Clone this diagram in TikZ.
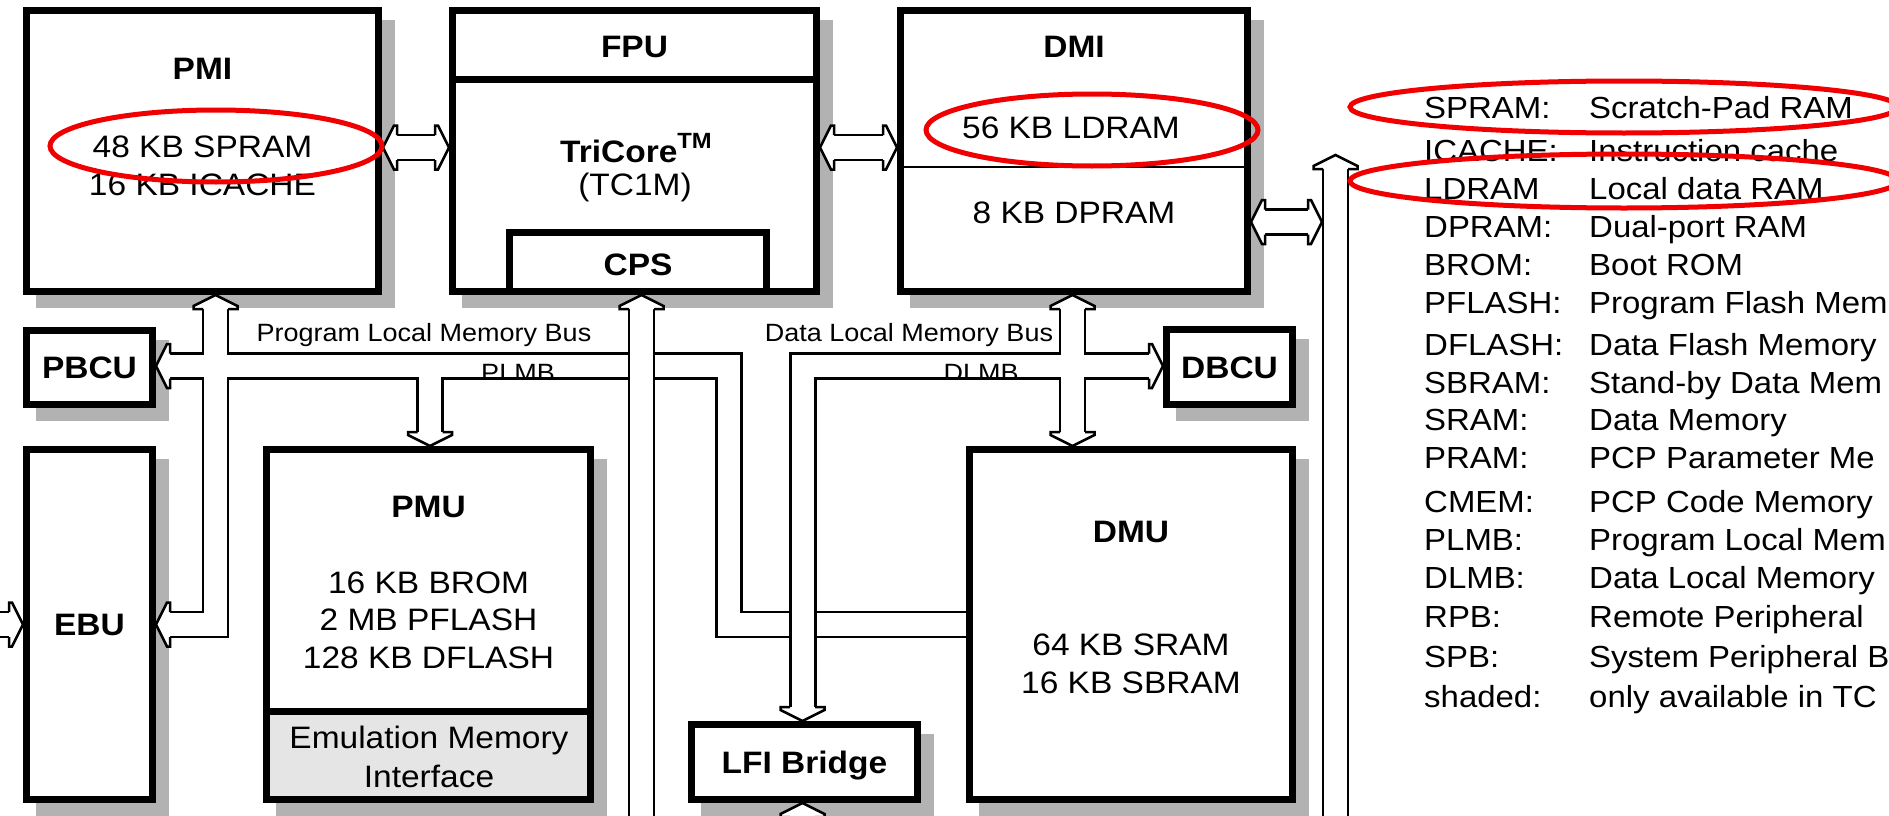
\documentclass[tikz,border=0pt]{standalone}
\usepackage{fontspec}
\setmainfont{Liberation Sans}[FakeStretch=1.08]
\definecolor{shadowgray}{gray}{0.7}
\definecolor{emugray}{gray}{0.9}
\definecolor{markred}{RGB}{240,0,0}
\begin{document}
\begin{tikzpicture}[x=1pt,y=-1pt,
  box/.style={draw=black, line width=7pt, fill=white, rectangle, inner sep=0pt},
  txt/.style={font=\fontsize{31}{37}\selectfont, anchor=base, inner sep=0pt},
  btxt/.style={font=\fontsize{31}{37}\selectfont\bfseries, anchor=base, inner sep=0pt},
  bustxt/.style={font=\fontsize{25}{30}\selectfont, anchor=base, inner sep=0pt},
  legtxt/.style={font=\fontsize{30.5}{36}\selectfont, anchor=base west, inner sep=0pt},
  railblack/.style={line width=27.5pt, draw=black, line join=miter},
  railwhite/.style={line width=22.5pt, draw=white, line join=miter},
  headst/.style={draw=black, fill=white, line width=2.5pt, line join=miter},
  redring/.style={draw=markred, line width=5pt},
  pics/hhead/.style={code={\filldraw[headst] (-12.5,14) -- (-22,14) -- (-22,11) -- (0,0) -- (22,11) -- (22,14) -- (12.5,14);}}
]
\useasboundingbox (0,0) rectangle (1889,816);
\clip (0,0) rectangle (1889,816);
\fill[white] (0,0) rectangle (1889,816);

% shadows
\foreach \a/\b/\c/\d in {23/7/382/295, 449/7/820/295, 897/7/1251/295, 23/327/156/408, 1163/326/1296/408, 23/446/156/803, 263/446/594/803, 966/446/1296/803, 688/721/921/803}
  \fill[shadowgray] (\a+13,\b+13) rectangle (\c+13,\d+13);

% boxes
\node[box, minimum width=352pt, minimum height=281pt] (pmi) at (202.5,151) {};
\node[box, minimum width=364pt, minimum height=281pt] (tc) at (634.5,151) {};
\draw[line width=7pt] (452.5,79) -- (816.5,79);
\node[box, minimum width=257pt, minimum height=59pt] (cps) at (638,262) {};
\node[box, minimum width=347pt, minimum height=281pt] (dmi) at (1074,151) {};
\draw[line width=2pt] (904,167) -- (1244,167);
\node[box, minimum width=126pt, minimum height=74pt] (pbcu) at (89.5,367.5) {};
\node[box, minimum width=126pt, minimum height=75pt] (dbcu) at (1229.5,367) {};
\node[box, minimum width=126pt, minimum height=350pt] (ebu) at (89.5,624.5) {};
\node[box, minimum width=324pt, minimum height=350pt] (pmu) at (428.5,624.5) {};
\fill[emugray] (270,714.5) rectangle (587,796);
\draw[line width=7pt] (266.5,711) -- (590.5,711);
\node[box, minimum width=323pt, minimum height=350pt] (dmu) at (1131,624.5) {};
\node[box, minimum width=226pt, minimum height=75pt] (lfi) at (804.5,762) {};

% bus junction coordinates
\coordinate (plmbL) at (170,366);
\coordinate (plmbC) at (729,366);
\coordinate (plmbD) at (729,624.5);
\coordinate (pmiB) at (215.5,309);
\coordinate (pmiD) at (215.5,624.5);
\coordinate (pmuB) at (430,432);
\coordinate (pmuT) at (430,366);
\coordinate (dlmbR) at (1149,366);
\coordinate (dlmbC) at (803,366);
\coordinate (lfiB) at (803,707);
\coordinate (dmiB) at (1072.5,309);
\coordinate (dmuB) at (1072.5,432);

% PLMB group
\draw[railblack] (pmiB) -- (pmiD) -- (170,624.5);
\draw[railblack] (plmbL) -- (plmbC) -- (plmbD) -- (dmu.west);
\draw[railblack] (pmuT) -- (pmuB);
\draw[railwhite] (pmiB) -- (pmiD) -- (170,624.5);
\draw[railwhite] (plmbL) -- (plmbC) -- (plmbD) -- (dmu.west);
\draw[railwhite] (pmuT) -- (pmuB);
% DLMB group
\draw[railblack] (dlmbR) -- (dlmbC) -- (lfiB);
\draw[railblack] (dmiB) -- (dmuB);
\draw[railwhite] (dlmbR) -- (dlmbC) -- (lfiB);
\draw[railwhite] (dmiB) -- (dmuB);
% CPS shaft
\draw[railblack] (641.5,309) -- (641.5,830);
\draw[railwhite] (641.5,309) -- (641.5,830);
% LFI lower, right bus, EBU left
\draw[railblack] (802.5,817) -- (802.5,830);
\draw[railwhite] (802.5,817) -- (802.5,830);
\draw[railblack] (1335.5,169) -- (1335.5,830);
\draw[railwhite] (1335.5,169) -- (1335.5,830);
\draw[railblack] (-10,624.5) -- (9,624.5);
\draw[railwhite] (-10,624.5) -- (9,624.5);
% horizontal double arrows
\draw[railblack] (397,147.5) -- (435,147.5);
\draw[railwhite] (397,147.5) -- (435,147.5);
\draw[railblack] (834,147.5) -- (883,147.5);
\draw[railwhite] (834,147.5) -- (883,147.5);
\draw[railblack] (1265,222) -- (1309,222);
\draw[railwhite] (1265,222) -- (1309,222);

% heads
\pic at (215.5,295) {hhead};
\pic[rotate=90] at (156,366) {hhead};
\pic[rotate=90] at (ebu.east) {hhead};
\pic[rotate=-90] at (ebu.west) {hhead};
\pic[rotate=180] at (430,446) {hhead};
\pic at (641.5,295) {hhead};
\pic at (1072.5,295) {hhead};
\pic[rotate=180] at (1072.5,446) {hhead};
\pic[rotate=-90] at (1163,366) {hhead};
\pic[rotate=180] at (802.5,721) {hhead};
\pic at (802.5,803) {hhead};
\pic at (1335.5,155) {hhead};
\pic[rotate=90] at (383,147.5) {hhead};
\pic[rotate=-90] at (449,147.5) {hhead};
\pic[rotate=90] at (820,147.5) {hhead};
\pic[rotate=-90] at (897,147.5) {hhead};
\pic[rotate=90] at (1251,222) {hhead};
\pic[rotate=-90] at (1322,222) {hhead};

% box texts
\node[btxt] (tpmi) at (202.5,80) {PMI};
\node[txt] (tspram) at (202.5,157) {48 KB SPRAM};
\node[txt] (ticache) at (202.5,195) {16 KB ICACHE};
\node[btxt] (tfpu) at (634.5,57) {FPU};
\node[btxt] (ttc) at (636,162) {TriCore\raisebox{14pt}{\fontsize{22}{22}\selectfont TM}};
\node[txt] (ttc1m) at (635,195) {(TC1M)};
\node[btxt] (tcps) at (638,275) {CPS};
\node[btxt] (tdmi) at (1074,57) {DMI};
\node[txt] (tldram) at (1071,138) {56 KB LDRAM};
\node[txt] (tdpram) at (1074,223) {8 KB DPRAM};
\node[btxt] (tpbcu) at (89.5,378) {PBCU};
\node[btxt] (tdbcu) at (1229.5,378) {DBCU};
\node[btxt] (tebu) at (89.5,635) {EBU};
\node[btxt] (tpmu) at (428.5,517) {PMU};
\node[txt] (tbrom) at (428.5,593) {16 KB BROM};
\node[txt] (tpflash) at (428.5,630) {2 MB PFLASH};
\node[txt] (tdflash) at (428.5,668) {128 KB DFLASH};
\node[txt] (temua) at (429,748) {Emulation Memory};
\node[txt] (temub) at (429,787) {Interface};
\node[btxt] (tdmu) at (1131,542) {DMU};
\node[txt] (tsram) at (1131,655) {64 KB SRAM};
\node[txt] (tsbram) at (1131,693) {16 KB SBRAM};
\node[btxt] (tlfi) at (804.5,773) {LFI Bridge};

% bus labels
\node[bustxt] (lplm) at (424,341) {Program Local Memory Bus};
\node[bustxt] (ldlm) at (909,341) {Data Local Memory Bus};
\begin{scope}
  \clip (440,355) rectangle (1050,377.5);
  \node[bustxt] (lplmb) at (518,381) {PLMB};
  \node[bustxt] (ldlmb) at (981,381) {DLMB};
\end{scope}

% legend
\foreach \y/\ab/\de in {118/SPRAM:/Scratch-Pad RAM, 161/ICACHE:/Instruction cache, 199/LDRAM/Local data RAM, 237/DPRAM:/Dual-port RAM, 275/BROM:/Boot ROM, 313/PFLASH:/Program Flash Mem, 355/DFLASH:/Data Flash Memory, 393/SBRAM:/Stand-by Data Mem, 430/SRAM:/Data Memory, 468/PRAM:/PCP Parameter Me, 512/CMEM:/PCP Code Memory, 550/PLMB:/Program Local Mem, 588/DLMB:/Data Local Memory, 627/RPB:/Remote Peripheral, 667/SPB:/System Peripheral B, 707/shaded:/only available in TC}
{
  \node[legtxt] (ab\y) at (1424,\y) {\ab};
  \node[legtxt] (de\y) at (1589,\y) {\de};
}

% red marks
\draw[redring] (216,146) ellipse [x radius=166pt, y radius=36pt];
\draw[redring] (1092,130) ellipse [x radius=166pt, y radius=36pt];
\draw[redring] (1624,107) ellipse [x radius=274pt, y radius=26pt];
\draw[redring] (1624,181) ellipse [x radius=274pt, y radius=27pt];
\end{tikzpicture}
\end{document}
